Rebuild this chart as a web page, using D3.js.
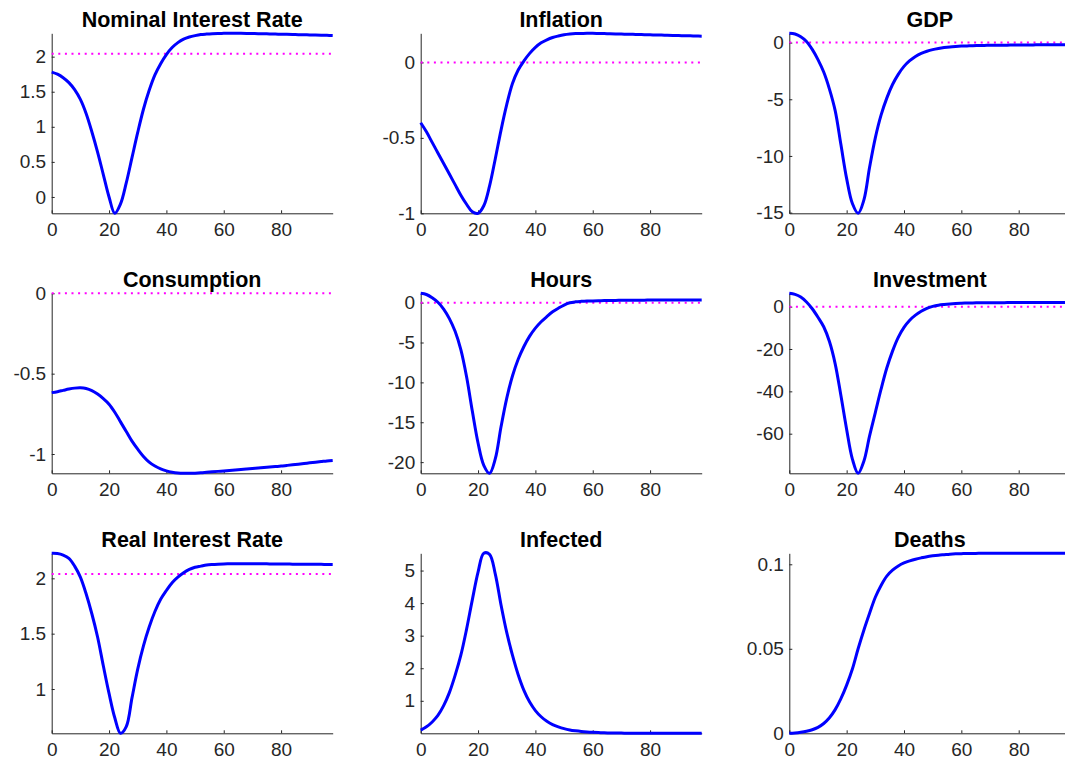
<!DOCTYPE html>
<html>
<head>
<meta charset="utf-8">
<script src="https://cdn.jsdelivr.net/npm/d3@7"></script>
<style>
  body { margin: 0; background: #fff; }
  .chart text { font-family: "Liberation Sans", Arial, Helvetica, sans-serif; }
</style>
</head>
<body>
<div class="chart"></div>
<script>
// quarters after the shock, sampled every 2
const periods = [0, 2, 4, 6, 8, 10, 12, 14, 16, 18, 20, 22, 24, 26, 28, 30, 32, 34, 36, 38,
  40, 42, 44, 46, 48, 50, 52, 54, 56, 58, 60, 62, 64, 66, 68, 70, 72, 74, 76, 78,
  80, 82, 84, 86, 88, 90, 92, 94, 96, 98];
const xTicks = [0, 20, 40, 60, 80];

const nominalRate = [1.78, 1.75, 1.70, 1.63, 1.53, 1.39, 1.19, 0.93, 0.64, 0.32,
  0.0, -0.233, -0.1, 0.2, 0.56, 0.92, 1.25, 1.52, 1.74, 1.90,
  2.03, 2.13, 2.20, 2.25, 2.28, 2.30, 2.315, 2.322, 2.327, 2.33,
  2.332, 2.333, 2.333, 2.332, 2.331, 2.33, 2.328, 2.326, 2.324, 2.322,
  2.32, 2.318, 2.316, 2.314, 2.312, 2.31, 2.308, 2.306, 2.304, 2.302];
const inflation = [-0.40, -0.46, -0.53, -0.60, -0.67, -0.74, -0.81, -0.88, -0.94, -0.99,
  -1.0, -0.95, -0.82, -0.64, -0.45, -0.28, -0.14, -0.05, 0.01, 0.06,
  0.10, 0.13, 0.15, 0.165, 0.175, 0.183, 0.188, 0.191, 0.192, 0.193,
  0.193, 0.192, 0.191, 0.19, 0.189, 0.188, 0.187, 0.186, 0.185, 0.184,
  0.183, 0.182, 0.181, 0.18, 0.179, 0.178, 0.177, 0.176, 0.175, 0.174];
const gdp = [0.82, 0.76, 0.52, 0.1, -0.6, -1.5, -2.6, -4.1, -6.0, -9.0,
  -12.0, -14.2, -15.06, -13.9, -11.0, -8.4, -6.4, -4.9, -3.7, -2.8,
  -2.1, -1.6, -1.22, -0.95, -0.76, -0.62, -0.52, -0.44, -0.38, -0.34,
  -0.31, -0.29, -0.27, -0.26, -0.25, -0.24, -0.235, -0.23, -0.225, -0.22,
  -0.215, -0.21, -0.205, -0.2, -0.2, -0.195, -0.19, -0.19, -0.185, -0.18];
const consumption = [-0.618, -0.612, -0.604, -0.596, -0.590, -0.588, -0.592, -0.605, -0.627, -0.655,
  -0.69, -0.74, -0.80, -0.86, -0.92, -0.97, -1.015, -1.05, -1.075, -1.093,
  -1.105, -1.113, -1.118, -1.12, -1.12, -1.119, -1.117, -1.114, -1.111, -1.108,
  -1.105, -1.102, -1.099, -1.096, -1.093, -1.09, -1.087, -1.084, -1.081, -1.078,
  -1.075, -1.071, -1.067, -1.063, -1.059, -1.055, -1.051, -1.047, -1.043, -1.04];
const hours = [1.17, 1.02, 0.62, 0.05, -0.8, -2.0, -3.6, -5.9, -9.3, -13.6,
  -17.6, -20.4, -21.4, -19.6, -15.6, -12.0, -9.2, -7.1, -5.5, -4.2,
  -3.2, -2.4, -1.75, -1.15, -0.7, -0.3, -0.02, 0.1, 0.16, 0.2,
  0.22, 0.24, 0.26, 0.27, 0.28, 0.29, 0.3, 0.3, 0.31, 0.31,
  0.32, 0.32, 0.32, 0.33, 0.33, 0.33, 0.33, 0.33, 0.33, 0.33];
const investment = [6.3, 5.8, 4.5, 2.2, -1.0, -5.0, -9.5, -16.5, -27, -42,
  -58, -72, -78.7, -73, -61, -50, -39, -29, -21, -14.5,
  -9.8, -6.4, -4.0, -2.2, -0.8, 0.1, 0.7, 1.05, 1.3, 1.48,
  1.6, 1.7, 1.77, 1.82, 1.85, 1.87, 1.88, 1.89, 1.9, 1.9,
  1.91, 1.91, 1.91, 1.92, 1.92, 1.92, 1.92, 1.92, 1.92, 1.92];
const realRate = [2.226, 2.224, 2.21, 2.18, 2.11, 2.01, 1.86, 1.68, 1.47, 1.21,
  0.96, 0.74, 0.60, 0.66, 0.92, 1.18, 1.39, 1.56, 1.70, 1.81,
  1.89, 1.96, 2.01, 2.05, 2.08, 2.10, 2.11, 2.12, 2.125, 2.128,
  2.13, 2.131, 2.132, 2.132, 2.132, 2.132, 2.131, 2.131, 2.13, 2.13,
  2.129, 2.129, 2.128, 2.128, 2.127, 2.127, 2.126, 2.126, 2.125, 2.125];
const infected = [0.10, 0.2, 0.35, 0.55, 0.85, 1.25, 1.78, 2.4, 3.2, 4.1,
  4.95, 5.53, 5.5, 4.9, 3.95, 3.1, 2.4, 1.8, 1.32, 0.96,
  0.70, 0.51, 0.37, 0.27, 0.2, 0.145, 0.105, 0.078, 0.057, 0.042,
  0.031, 0.023, 0.017, 0.013, 0.01, 0.008, 0.006, 0.005, 0.004, 0.003,
  0.003, 0.002, 0.002, 0.002, 0.002, 0.002, 0.002, 0.002, 0.002, 0.002];
const deaths = [0, 0.0002, 0.0006, 0.0012, 0.0021, 0.0035, 0.0058, 0.0092, 0.014, 0.0205,
  0.0285, 0.038, 0.05, 0.061, 0.071, 0.0805, 0.0875, 0.093, 0.0965, 0.099,
  0.1008, 0.102, 0.103, 0.1038, 0.1045, 0.105, 0.1054, 0.1057, 0.106, 0.1062,
  0.1063, 0.1064, 0.1064, 0.1065, 0.1065, 0.1065, 0.1065, 0.1065, 0.1065, 0.1065,
  0.1065, 0.1065, 0.1065, 0.1065, 0.1065, 0.1065, 0.1065, 0.1065, 0.1065, 0.1065];

const titles = ['Nominal Interest Rate', 'Inflation', 'GDP',
  'Consumption', 'Hours', 'Investment',
  'Real Interest Rate', 'Infected', 'Deaths'];
const seriesList = [nominalRate, inflation, gdp, consumption, hours, investment, realRate, infected, deaths];
const steadyStates = [2.04, 0, 0, 0, 0, 0, 2.04, null, null];
const yTicks = [
  [0, 0.5, 1, 1.5, 2], [-1, -0.5, 0], [-15, -10, -5, 0],
  [-1, -0.5, 0], [-20, -15, -10, -5, 0], [-60, -40, -20, 0],
  [1, 1.5, 2], [1, 2, 3, 4, 5], [0, 0.05, 0.1]
];

const width = 1065, height = 766;
const plotW = 281, plotH = 180;
const colLeft = [51.7, 420.7, 789.3];
const rowTop = [33.3, 293.3, 553.3];
const axisColor = '#262626';

const svg = d3.select('.chart')
  .append('svg')
  .attr('width', width)
  .attr('height', height);

const x = d3.scaleLinear().domain([0, 98]).range([0, plotW]);

titles.forEach((title, i) => {
  const values = seriesList[i];
  const ss = steadyStates[i];
  const g = svg.append('g')
    .attr('transform', `translate(${colLeft[i % 3]}, ${rowTop[Math.floor(i / 3)]})`);

  // tight limits, like the source plot
  const yDomain = d3.extent(ss === null ? values : values.concat([ss]));
  const y = d3.scaleLinear().domain(yDomain).range([plotH, 0]);

  const xAxis = g.append('g')
    .attr('transform', `translate(0, ${plotH})`)
    .call(d3.axisBottom(x).tickValues(xTicks).tickSize(-3).tickSizeOuter(0)
      .tickPadding(9.5).tickFormat(d => String(d)));

  const yAxis = g.append('g')
    .call(d3.axisLeft(y).tickValues(yTicks[i]).tickSize(-3).tickSizeOuter(0)
      .tickPadding(5.5).tickFormat(d => String(d)));

  [xAxis, yAxis].forEach(a => {
    a.attr('font-size', null).attr('font-family', null);
    a.selectAll('path, line').attr('stroke', axisColor).attr('stroke-width', 1);
    a.selectAll('text')
      .attr('fill', axisColor)
      .style('font-size', '19px');
  });

  // steady state
  if (ss !== null) {
    g.append('path')
      .datum([[0, ss], [98, ss]])
      .attr('fill', 'none')
      .attr('stroke', '#ff00ff')
      .attr('stroke-width', 2)
      .attr('stroke-dasharray', '2 4.6')
      .attr('d', d3.line().x(d => x(d[0])).y(d => y(d[1])));
  }

  const line = d3.line()
    .x((d, k) => x(periods[k]))
    .y(d => y(d))
    .curve(d3.curveCatmullRom.alpha(0.5));

  g.append('path')
    .datum(values)
    .attr('fill', 'none')
    .attr('stroke', '#0000ff')
    .attr('stroke-width', 3)
    .attr('stroke-linejoin', 'round')
    .attr('d', line);

  g.append('text')
    .attr('x', plotW / 2)
    .attr('y', -6.5)
    .attr('text-anchor', 'middle')
    .attr('fill', '#000')
    .style('font-size', '21.5px')
    .style('font-weight', 'bold')
    .text(title);
});
</script>
</body>
</html>
